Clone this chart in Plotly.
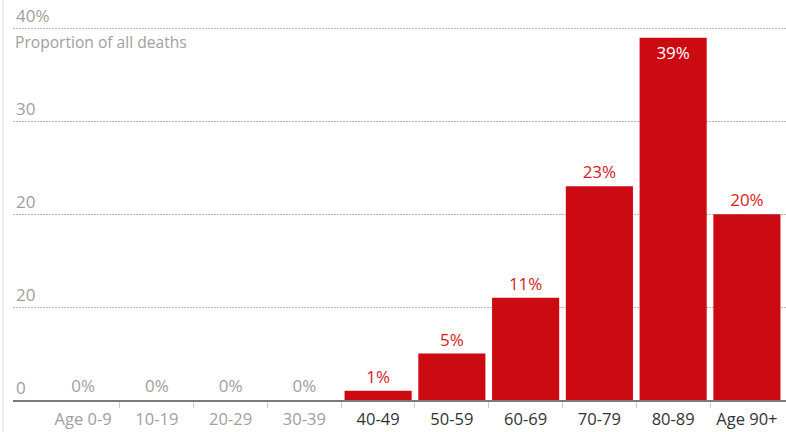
import plotly.graph_objects as go

# Age bands and share of all deaths (%)
age_bands = ["Age 0-9", "10-19", "20-29", "30-39", "40-49",
             "50-59", "60-69", "70-79", "80-89", "Age 90+"]
share = [0, 0, 0, 0, 1, 5, 11, 23, 39, 20]

y_tick_vals = [0, 10, 20, 30, 40]
y_tick_text = ["0", "20", "20", "30", "40%"]

RED = "#cc0a11"
LABEL_RED = "#d51b22"
GREY = "#a0a0a0"
DARK = "#333333"
FONT = "Open Sans"

x_pos = list(range(len(age_bands)))
labels = [f"{v}%" for v in share]
text_pos = ["inside" if v == max(share) else "outside" for v in share]
text_col = ["#ffffff" if v == max(share) else (GREY if v == 0 else LABEL_RED)
            for v in share]
tick_labels = [f"<span style='color:{GREY if v == 0 else DARK}'>{a}</span>"
               for a, v in zip(age_bands, share)]

fig = go.Figure(go.Bar(
    x=x_pos,
    y=share,
    width=0.91,
    marker=dict(color=RED, line=dict(width=0)),
    text=labels,
    textposition=text_pos,
    insidetextanchor="end",
    textangle=0,
    textfont=dict(color=text_col, size=17, family=FONT),
    cliponaxis=False,
    hoverinfo="skip",
))

fig.update_layout(
    width=786,
    height=432,
    margin=dict(l=13, r=0, t=0, b=32),
    paper_bgcolor="white",
    plot_bgcolor="white",
    showlegend=False,
    font=dict(family=FONT, size=16, color=GREY),
    xaxis=dict(
        range=[-0.95, 9.53],
        tickmode="array",
        tickvals=x_pos,
        ticktext=tick_labels,
        ticks="",
        tickfont=dict(size=16.5, family=FONT),
        ticklabelstandoff=3,
        showgrid=False,
        zeroline=False,
        showline=True,
        linecolor="#7a7a7a",
        linewidth=2,
        minor=dict(tickmode="array",
                   tickvals=[i + 0.5 for i in x_pos[:-1]],
                   ticks="outside", ticklen=6, tickcolor="#cccccc",
                   tickwidth=1, showgrid=False),
        fixedrange=True,
    ),
    yaxis=dict(
        range=[0, 43.06],
        tickmode="array",
        tickvals=y_tick_vals,
        ticktext=y_tick_text,
        ticklabelposition="inside top",
        ticks="",
        tickfont=dict(size=17, family=FONT, color=GREY),
        showgrid=True,
        gridcolor="#b8b8b8",
        gridwidth=1,
        griddash="1.5px,1.5px",
        zeroline=False,
        showline=False,
        fixedrange=True,
    ),
    shapes=[dict(type="line", xref="paper", yref="paper",
                 x0=-0.013, x1=-0.013, y0=-0.1, y1=1.0,
                 line=dict(color="#dddddd", width=1))],
    annotations=[dict(text="Proportion of all deaths", xref="paper", yref="y",
                      x=0, y=40, xanchor="left", yanchor="top", yshift=-1,
                      showarrow=False,
                      font=dict(size=15.6, family=FONT, color=GREY))],
)

fig.write_html("out.html")
